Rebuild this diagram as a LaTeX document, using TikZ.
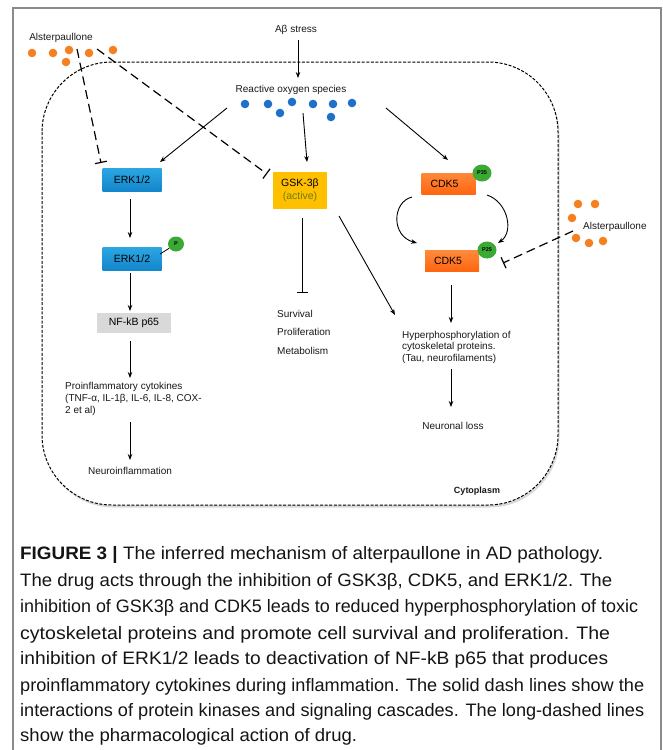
\documentclass[tikz,border=0pt]{standalone}
\usepackage{fontspec}
\usepackage{graphicx}
\setmainfont{Liberation Sans}
\newfontfamily\capfont{Liberation Sans}
\usetikzlibrary{arrows.meta,shadows,shapes.geometric}
\definecolor{dotorange}{HTML}{F5801F}
\definecolor{dotblue}{HTML}{1E70C8}
\definecolor{erktop}{HTML}{2BA6E2}
\definecolor{erkbot}{HTML}{1286CC}
\definecolor{gskfill}{HTML}{FFC000}
\definecolor{activec}{HTML}{6A7D12}
\definecolor{cdktop}{HTML}{FF8A3A}
\definecolor{cdkbot}{HTML}{FF6510}
\definecolor{pgreen}{HTML}{3AAA35}
\definecolor{nfgray}{HTML}{D9D9D9}
\definecolor{framec}{HTML}{8A8A8A}
\newsavebox\capbox
\newcommand\fitline[2]{\sbox\capbox{#2}\pgfmathsetmacro\capratio{#1/\wd\capbox}\scalebox{\capratio}[1]{\usebox\capbox}}
\begin{document}
\begin{tikzpicture}[x=1pt,y=-1pt,
  lbl/.style={font=\fontsize{10}{12}\selectfont, inner sep=1pt, text=black!90},
  boxtext/.style={font=\fontsize{10.5}{12.5}\selectfont, inner sep=0pt, align=center},
  erkbox/.style={boxtext, top color=erktop, bottom color=erkbot, minimum width=59pt, minimum height=23pt},
  cdkbox/.style={boxtext, top color=cdktop, bottom color=cdkbot, minimum width=54pt, minimum height=21pt},
  gskbox/.style={boxtext, fill=gskfill, minimum width=54pt, minimum height=37pt},
  nfbox/.style={boxtext, fill=nfgray, minimum width=74pt, minimum height=20pt},
  pcirc/.style={ellipse, fill=pgreen, minimum width=19pt, minimum height=17pt, inner sep=0pt, font=\fontsize{5.5}{6}\selectfont\bfseries},
  arr/.style={-{Stealth[length=6pt,width=4.5pt]}, line width=0.9pt},
  inh/.style={-{Bar[width=11pt,line width=1.1pt]}, line width=0.9pt},
  drug/.style={-{Bar[width=12pt,line width=1.2pt]}, line width=1.2pt, dash pattern=on 9pt off 5pt},
  odot/.style={fill=dotorange},
  bdot/.style={fill=dotblue},
  capline/.style={font=\capfont\fontsize{18}{22}\selectfont, inner sep=0pt, anchor=west, text=black!92}
]
\useasboundingbox (0,0) rectangle (663,750);
% outer frame
\draw[framec, line width=1.3pt] (13,750) -- (13,8) -- (661,8) -- (661,750);
% cell
\draw[rounded corners=70pt, line width=1pt, dash pattern=on 3pt off 1.6pt, fill=white,
      drop shadow={shadow xshift=1.5pt, shadow yshift=-2.5pt, opacity=0.3}]
      (42,62) rectangle (558,505);
% drug top-left
\node[lbl] (als1) at (61,38) {Alsterpaullone};
\foreach \p in {(32,53),(53,53),(69,50),(66,62),(89,53),(113,50)} \fill[odot] \p circle[radius=4.3pt];
% stress + ROS
\node[lbl] (abeta) at (296,30) {Aβ stress};
\node[lbl] (ros) at (291,90) {Reactive oxygen species};
\foreach \p in {(245,104),(268,104),(280,113),(292,102),(313,104),(333,104),(331,117),(352,103)} \fill[bdot] \p circle[radius=4.3pt];
% boxes
\node[erkbox] (erk1) at (132,180) {ERK1/2};
\node[gskbox] (gsk) at (300,190.5) {GSK-3β\\[1pt]\textcolor{activec}{(active)}};
\node[erkbox] (erk2) at (132,259) {ERK1/2};
\node[pcirc, minimum width=16pt, minimum height=15pt] (pp) at (176,244) {P};
\node[nfbox] (nfkb) at (134,323) {NF-kB p65};
\node[cdkbox] (cdka) at (448.5,183.5) {CDK5\hspace{8pt}};
\node[pcirc] (p35) at (482,173) {P35};
\node[cdkbox] (cdkb) at (452,261) {CDK5\hspace{8pt}};
\node[pcirc] (p25) at (487,250) {P25};
% texts
\node[lbl, anchor=north west, align=left, font=\fontsize{10}{12}\selectfont] (proinf) at (64,381)
  {Proinflammatory cytokines\\(TNF-α, IL-1β, IL-6, IL-8, COX-\\2 et al)};
\node[lbl] (neuroinf) at (130,471) {Neuroinflammation};
\node[lbl, anchor=north west, align=left, font=\fontsize{10}{18.5}\selectfont] (surv) at (276,309)
  {Survival\\Proliferation\\Metabolism};
\node[lbl, anchor=north west, align=left, font=\fontsize{10}{11.5}\selectfont] (hyper) at (401,330)
  {Hyperphosphorylation of\\cytoskeletal proteins.\\(Tau, neurofilaments)};
\node[lbl] (neuronal) at (453,426) {Neuronal loss};
\node[lbl, font=\fontsize{9}{11}\selectfont\bfseries] (cyto) at (477,491) {Cytoplasm};
\node[lbl, anchor=west] (als2) at (582,227) {Alsterpaullone};
\foreach \p in {(578,204),(595,204),(572,218),(576,238),(589,243),(603,241)} \fill[odot] \p circle[radius=4.3pt];
% coordinates for free ends
\coordinate (abS) at (298,40);   \coordinate (rosN) at (298,78);
\coordinate (rosL) at (227,108); \coordinate (erk1T) at (160,162);
\coordinate (rosM) at (303,113); \coordinate (gskT) at (307,162);
\coordinate (rosR) at (386,108); \coordinate (cdkaT) at (448,160);
\coordinate (d1s) at (77,49);    \coordinate (d1e) at (101,163);
\coordinate (d2s) at (97,49);    \coordinate (d2e) at (267,174);
\coordinate (d3s) at (573,231);  \coordinate (d3e) at (503,263);
\coordinate (gskB) at (302,218); \coordinate (survT) at (302,293);
\coordinate (gskR) at (339,216); \coordinate (hypT) at (395,315);
\coordinate (erk1B) at (130,199); \coordinate (erk2T) at (130,238);
\coordinate (erk2B) at (130,273); \coordinate (nfT) at (130,311);
\coordinate (nfB) at (130,341);   \coordinate (piT) at (130,378);
\coordinate (piB) at (130,422);   \coordinate (niT) at (130,460);
\coordinate (erk2P) at (160,254);
\coordinate (l1) at (412,197); \coordinate (l2) at (417,243);
\coordinate (r1) at (487,195); \coordinate (r2) at (498,243);
\coordinate (cdkbB) at (451,285); \coordinate (hypT2) at (451,323);
\coordinate (hypB) at (451,369);  \coordinate (nlT) at (451,407);
% connectors
\draw[arr] (abS) -- (rosN);
\draw[arr] (rosL) -- (erk1T);
\draw[arr] (rosM) -- (gskT);
\draw[arr] (rosR) -- (cdkaT);
\draw[drug] (d1s) -- (d1e);
\draw[drug] (d2s) -- (d2e);
\draw[drug] (d3s) -- (d3e);
\draw[arr] (erk1B) -- (erk2T);
\draw[line width=0.8pt] (erk2P) -- (pp);
\draw[arr] (erk2B) -- (nfT);
\draw[arr] (nfB) -- (piT);
\draw[arr] (piB) -- (niT);
\draw[inh] (gskB) -- (survT);
\draw[arr] (gskR) -- (hypT);
\draw[arr] (l1) .. controls (392,202) and (391,236) .. (l2);
\draw[arr] (r1) .. controls (508,202) and (514,232) .. (r2);
\draw[arr] (cdkbB) -- (hypT2);
\draw[arr] (hypB) -- (nlT);
% caption
\node[capline] (c1) at (20,555) {\fitline{583pt}{\textbf{FIGURE 3 |} The inferred mechanism of alterpaullone in AD pathology.}};
\node[capline] (c2) at (20,582) {\fitline{592pt}{The drug acts through the inhibition of GSK3β, CDK5, and ERK1/2. The}};
\node[capline] (c3) at (20,608) {\fitline{618pt}{inhibition of GSK3β and CDK5 leads to reduced hyperphosphorylation of toxic}};
\node[capline] (c4) at (20,635) {\fitline{590pt}{cytoskeletal proteins and promote cell survival and proliferation. The}};
\node[capline] (c5) at (20,660) {\fitline{588pt}{inhibition of ERK1/2 leads to deactivation of NF-kB p65 that produces}};
\node[capline] (c6) at (20,687) {\fitline{624pt}{proinflammatory cytokines during inflammation. The solid dash lines show the}};
\node[capline] (c7) at (20,712) {\fitline{624pt}{interactions of protein kinases and signaling cascades. The long-dashed lines}};
\node[capline] (c8) at (20,737) {\fitline{337pt}{show the pharmacological action of drug.}};
\end{tikzpicture}
\end{document}
